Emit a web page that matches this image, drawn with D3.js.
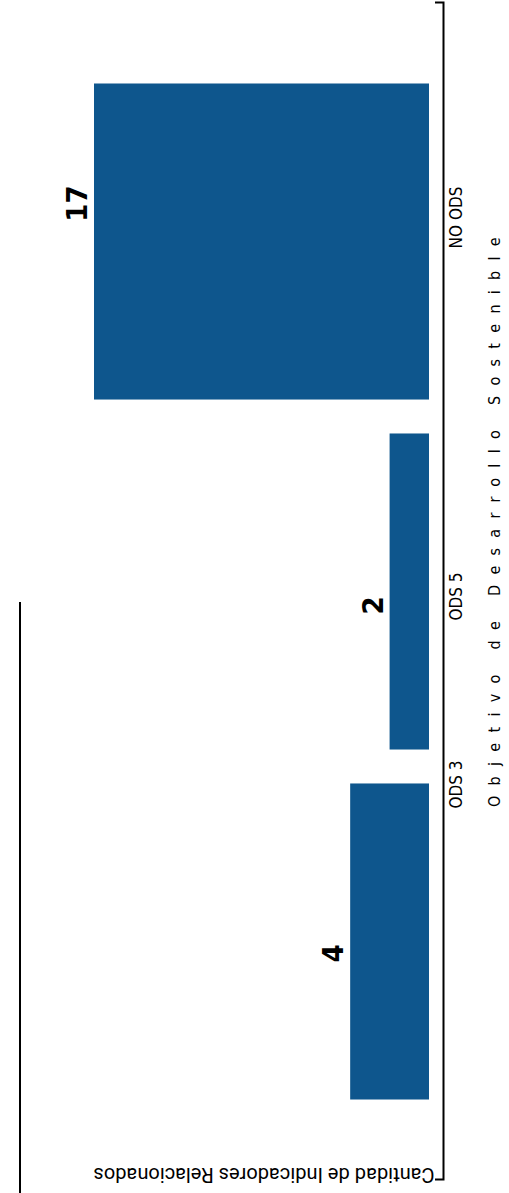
<!DOCTYPE html>
<html>
<head>
<meta charset="utf-8">
<script src="https://cdn.jsdelivr.net/npm/d3@7"></script>
<style>
html,body{margin:0;padding:0;background:#fff;}
svg{display:block;}
</style>
</head>
<body>
<svg id="chart" width="509" height="1193"></svg>
<script>
const categories = ["ODS 3", "ODS 5", "NO ODS"];
const values = [4, 2, 17];
const xTitle = "Objetivo de Desarrollo Sostenible";
const yTitle = "Cantidad de Indicadores Relacionados";

// layout (not data): label nudges along the category axis, as in the reference
const tickNudge = [157, -5, 24];
const valueNudge = [-12, -14, 38];

const W = 1193; // unrotated frame width
const svg = d3.select("#chart");
const g = svg.append("g").attr("transform", `translate(0,${W}) rotate(-90)`);

const x = d3.scaleBand().domain(categories).range([13, 1190]).paddingInner(0.097).paddingOuter(0.23);
const y = d3.scaleLinear().domain([0, 17]).range([429, 94]);

const condensed = "'Liberation Sans Narrow', 'DejaVu Sans Condensed', sans-serif";

// top rule
g.append("line").attr("x1", 0).attr("x2", 591).attr("y1", 20).attr("y2", 20)
  .attr("stroke", "#000").attr("stroke-width", 2);

// bars
g.selectAll("rect.bar").data(categories).join("rect")
  .attr("class", "bar")
  .attr("x", d => x(d))
  .attr("width", x.bandwidth())
  .attr("y", (d, i) => y(values[i]))
  .attr("height", (d, i) => y(0) - y(values[i]))
  .attr("fill", "#0e568d");

// value labels
g.selectAll("text.val").data(categories).join("text")
  .attr("class", "val")
  .attr("x", (d, i) => x(d) + x.bandwidth() / 2 + valueNudge[i])
  .attr("y", (d, i) => y(values[i]) - 7)
  .attr("text-anchor", "middle")
  .attr("font-family", condensed)
  .attr("font-weight", "bold")
  .attr("font-size", 29)
  .text((d, i) => values[i]);

// x axis
const axis = d3.axisBottom(x).tickSize(0).tickSizeOuter(-8).tickPadding(7);
const ax = g.append("g").attr("transform", "translate(0,443)").call(axis);
ax.select(".domain").attr("stroke", "#000").attr("stroke-width", 2);
ax.selectAll(".tick text")
  .attr("x", (d, i) => tickNudge[i])
  .attr("font-family", condensed)
  .attr("font-size", 17).attr("fill", "#000");

// x title
g.append("text")
  .attr("x", 676).attr("y", 500)
  .attr("text-anchor", "middle")
  .attr("font-family", condensed)
  .attr("font-size", 16)
  .attr("letter-spacing", 10.3)
  .text(xTitle);

// y title
g.append("text")
  .attr("transform", `translate(25,264) rotate(-90)`)
  .attr("text-anchor", "middle")
  .attr("font-family", "Roboto, 'Noto Sans', sans-serif")
  .attr("font-size", 20)
  .text(yTitle);
</script>
</body>
</html>
